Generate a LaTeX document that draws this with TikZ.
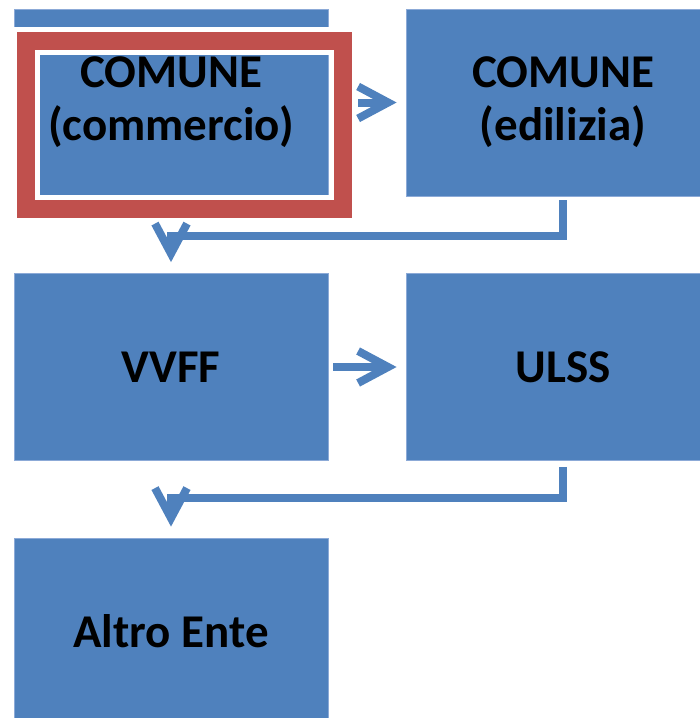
\documentclass[tikz,border=0pt]{standalone}
\usepackage{fontspec}
\setmainfont{Carlito}
\usetikzlibrary{arrows.meta}

\definecolor{boxblue}{RGB}{79,129,189}
\definecolor{boxedge}{RGB}{140,170,215}
\definecolor{framered}{RGB}{192,80,77}

\begin{document}
\begin{tikzpicture}[x=1pt,y=-1pt,
    ente/.style={fill=boxblue, draw=boxedge, line width=0.8pt,
        minimum width=314pt, minimum height=187pt, inner sep=0pt,
        align=center, font=\fontsize{47}{53}\selectfont\bfseries},
    freccia/.style={boxblue, line width=8pt,
        -{Straight Barb[length=30pt,width=32pt]}}]

    \useasboundingbox (0,0) rectangle (700,718);
    \clip (0,0) rectangle (700,718);

    %cases
    \node[ente] (comm) at (171,102.5) {COMUNE\\(commercio)};
    \node[ente] (edil) at (563,102.5) {COMUNE\\(edilizia)};
    \node[ente] (vvff) at (171,367) {VVFF};
    \node[ente] (ulss) at (563,367) {ULSS};
    \node[ente] (altro) at (171,631.5) {Altro Ente};

    %cadre
    \draw[white, line width=28pt] (26,41) rectangle (343,209);
    \draw[framered, line width=18pt] (26,41) rectangle (343,209);

    %fleches
    \draw[freccia] ([xshift=30pt]comm.east) -- ([xshift=-9pt]edil.west);
    \draw[freccia] ([xshift=5pt]vvff.east) -- ([xshift=-9pt]ulss.west);
    \draw[freccia] ([yshift=-4pt]edil.south) -- ++(0,36) -| ([yshift=11pt]vvff.north);
    \draw[freccia] ([yshift=-6pt]ulss.south) -- ++(0,31) -| ([yshift=11pt]altro.north);

\end{tikzpicture}
\end{document}
